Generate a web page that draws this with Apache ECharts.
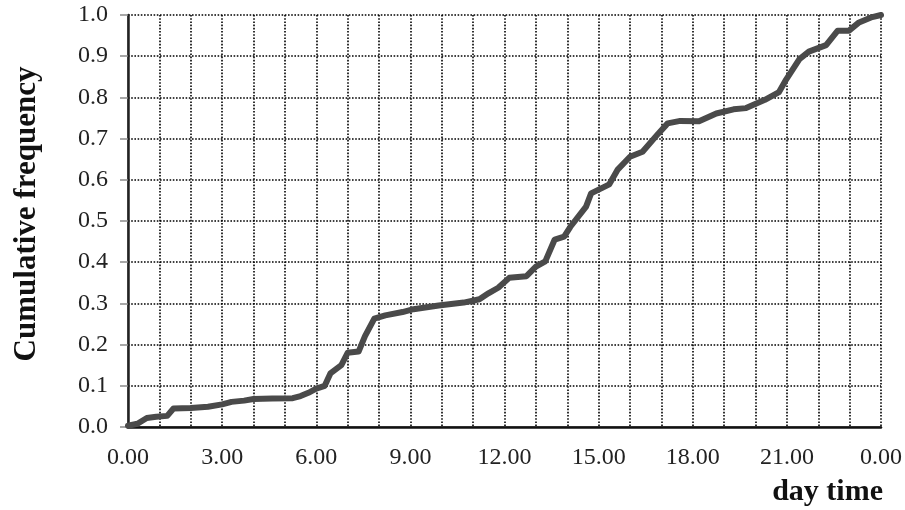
<!DOCTYPE html>
<html>
<head>
<meta charset="utf-8">
<script src="https://cdn.jsdelivr.net/npm/echarts@6/dist/echarts.min.js"></script>
<style>html,body{margin:0;padding:0;background:#fff}#c{width:905px;height:510px}</style>
</head>
<body>
<div id="c"></div>
<script>
// Hours of the day (x) and cumulative frequency (y)
var hours = [0,0.3,0.6,0.9,1.25,1.45,2.0,2.55,3.0,3.3,3.7,4.0,4.6,5.25,5.5,5.75,6.0,6.27,6.45,6.8,7.0,7.35,7.55,7.85,8.2,8.75,9.1,9.9,10.7,11.2,11.5,11.8,12.15,12.7,13.0,13.3,13.6,13.9,14.1,14.6,14.76,15.34,15.6,16.0,16.4,16.9,17.2,17.6,18.2,18.75,19.3,19.7,20.3,20.75,20.95,21.4,21.7,22.25,22.62,22.98,23.3,23.72,24];
var cumFreq = [0.003,0.008,0.022,0.025,0.027,0.045,0.046,0.049,0.055,0.061,0.064,0.068,0.069,0.070,0.075,0.083,0.093,0.100,0.130,0.150,0.180,0.183,0.220,0.263,0.271,0.279,0.286,0.295,0.302,0.310,0.325,0.338,0.362,0.366,0.389,0.402,0.455,0.462,0.486,0.535,0.567,0.589,0.624,0.656,0.668,0.712,0.737,0.743,0.742,0.761,0.771,0.774,0.794,0.813,0.840,0.893,0.911,0.927,0.962,0.962,0.982,0.995,1.0];
var xTickLabels = ['0.00','3.00','6.00','9.00','12.00','15.00','18.00','21.00','0.00'];
var yTickLabels = ['0.0','0.1','0.2','0.3','0.4','0.5','0.6','0.7','0.8','0.9','1.0'];

var pts = hours.map(function(h, i){ return [h, cumFreq[i]]; });
var font = '"Liberation Serif", "DejaVu Serif", serif';
var chart = echarts.init(document.getElementById('c'), null, {renderer:'canvas'});
var gridLine = {show:true, lineStyle:{color:'#000', width:1.6, type:[1.6,1.6]}};
chart.setOption({
  animation:false,
  backgroundColor:'#fff',
  grid:{left:128, right:22, top:15, bottom:83, containLabel:false},
  xAxis:[{
    type:'value', min:0, max:24, interval:1,
    axisLine:{show:true, onZero:false, lineStyle:{color:'#8a8a8a', width:2}},
    axisTick:{show:false},
    splitLine:gridLine,
    axisLabel:{
      margin:19, color:'#222', fontFamily:font, fontSize:24,
      showMinLabel:true, showMaxLabel:true,
      formatter:function(v){ return (Math.round(v)%3===0) ? xTickLabels[Math.round(v)/3] : ''; }
    }
  },{
    type:'value', position:'top', min:0, max:24, interval:1,
    axisLine:{show:true, lineStyle:{color:'#111', width:2.5}},
    axisTick:{show:false}, axisLabel:{show:false}, splitLine:{show:false}
  }],
  yAxis:[{
    type:'value', min:0, max:1, interval:0.1,
    name:'Cumulative frequency', nameLocation:'middle', nameRotate:90, nameGap:86,
    nameTextStyle:{fontFamily:font, fontSize:31, fontWeight:'bold', color:'#111', padding:[0,0,0,14]},
    axisLine:{show:true, lineStyle:{color:'#8a8a8a', width:2}},
    axisTick:{show:true, length:8, inside:false, lineStyle:{color:'#8a8a8a', width:1.5}},
    splitLine:gridLine,
    axisLabel:{
      margin:20, color:'#222', fontFamily:font, fontSize:24,
      formatter:function(v){ return yTickLabels[Math.round(v*10)]; }
    }
  },{
    type:'value', position:'right', min:0, max:1, interval:0.1,
    axisLine:{show:true, lineStyle:{color:'#222', width:2.5}},
    axisTick:{show:false}, axisLabel:{show:false}, splitLine:{show:false}
  }],
  graphic:[{
    type:'text', right:22, top:477,
    style:{text:'day time', font:'bold 30px ' + font, fill:'#111'}
  }],
  series:[{
    type:'line', data:pts, xAxisIndex:0, yAxisIndex:0,
    showSymbol:false, symbol:'none',
    lineStyle:{color:'#4a4a4a', width:6, join:'round', cap:'round'}
  }]
});
</script>
</body>
</html>
